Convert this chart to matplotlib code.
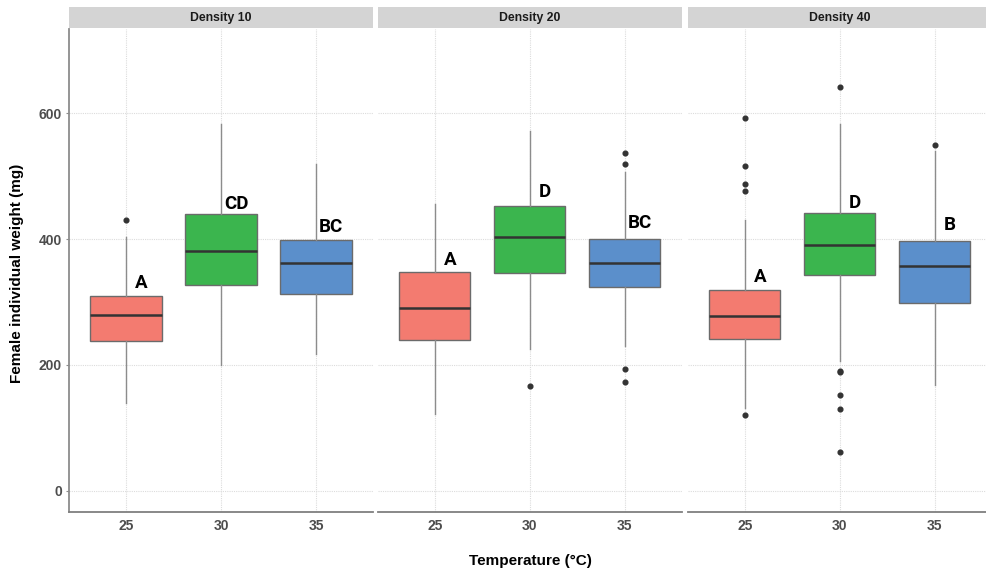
import matplotlib
matplotlib.use("Agg")
import matplotlib.pyplot as plt
from matplotlib import font_manager

# ---- data -------------------------------------------------------------
temperatures = ["25", "30", "35"]
densities = ["Density 10", "Density 20", "Density 40"]

q1 = [[237.5, 327.0, 312.7], [240.0, 346.0, 324.0], [241.0, 342.4, 299.0]]
medians = [[280.0, 380.6, 362.5], [290.5, 403.0, 361.5], [278.0, 390.0, 357.0]]
q3 = [[309.0, 440.0, 398.0], [348.0, 452.6, 399.7], [319.0, 441.0, 397.0]]
whisker_low = [[139.0, 200.0, 217.8], [122.0, 225.0, 230.0], [131.5, 206.0, 167.6]]
whisker_high = [[403.0, 582.5, 520.0], [456.0, 572.0, 507.0], [430.0, 582.5, 540.5]]
outliers = [
    [[430.0], [], []],
    [[], [167.0], [537.0, 520.0, 193.5, 173.0]],
    [[593.0, 516.0, 488.0, 476.0, 120.0], [642.0, 190.0, 188.0, 152.0, 130.0, 62.0], [549.6]],
]

# significance letters and the weight at which each letter sits
letters = [["A", "CD", "BC"], ["A", "D", "BC"], ["A", "D", "B"]]
letter_y = [[322.0, 448.0, 412.0], [359.0, 467.0, 417.0], [332.0, 449.0, 414.5]]

y_ticks = [0, 200, 400, 600]

fill_colors = ["#F37B70", "#3BB54E", "#5B8FCB"]

installed = {f.name for f in font_manager.fontManager.ttflist}
narrow = "Liberation Sans Narrow" in installed
print("narrow available:", narrow, sorted(n for n in installed if "Liberation" in n or "Roboto" in n or "Lato" in n))

# ---- figure layout ----------------------------------------------------
W, H = 987, 571
fig = plt.figure(figsize=(W / 100, H / 100), dpi=100)

panel_left_px = [69, 377.7, 687.7]
panel_w_px = 304
panel_top_px, panel_bot_px = 29, 512.3
strip_top_px, strip_bot_px = 7, 28

text_font = ["Liberation Sans Narrow", "Liberation Sans", "DejaVu Sans"]
scale = 1.18 if narrow else 1.0
letter_font = ["Roboto", "DejaVu Sans"]

for p, dens in enumerate(densities):
    left = panel_left_px[p] / W
    ax = fig.add_axes([left, 1 - panel_bot_px / H, panel_w_px / W,
                       (panel_bot_px - panel_top_px) / H])

    stats = []
    for i in range(len(temperatures)):
        stats.append(dict(med=medians[p][i], q1=q1[p][i], q3=q3[p][i],
                          whislo=whisker_low[p][i], whishi=whisker_high[p][i],
                          fliers=outliers[p][i]))
    positions = list(range(1, len(temperatures) + 1))
    bp = ax.bxp(stats, positions=positions, widths=0.75, patch_artist=True,
                showcaps=False,
                boxprops=dict(edgecolor="#6b6b6b", linewidth=1.0),
                whiskerprops=dict(color="#8c8c8c", linewidth=1.0),
                medianprops=dict(color="#333333", linewidth=1.8),
                flierprops=dict(marker="o", markersize=3.4,
                                markerfacecolor="#333333",
                                markeredgecolor="#333333"),
                zorder=3)
    for patch, col in zip(bp["boxes"], fill_colors):
        patch.set_facecolor(col)

    for i, pos in enumerate(positions):
        ax.text(pos + 0.16, letter_y[p][i], letters[p][i], ha="center",
                va="baseline", fontsize=13.5, fontweight="bold",
                family=letter_font, color="black", zorder=4)

    ax.set_xlim(0.4, 3.6)
    ax.set_ylim(-34.5, 734)
    ax.set_xticks(positions)
    ax.set_xticklabels(temperatures)
    ax.set_yticks(y_ticks)
    ax.grid(True, linestyle=(0, (1, 1)), color="#dcdcdc", linewidth=0.8, zorder=0)
    ax.set_axisbelow(True)

    for s in ["top", "right"]:
        ax.spines[s].set_visible(False)
    ax.spines["bottom"].set_color("#7f7f7f")
    ax.spines["bottom"].set_linewidth(1.3)
    if p == 0:
        ax.spines["left"].set_color("#8c8c8c")
        ax.spines["left"].set_linewidth(1.3)
        ax.tick_params(axis="y", length=2.5, width=0.8, color="#8c8c8c", pad=2.5)
        for lab in ax.get_yticklabels():
            lab.set_fontweight("bold")
            lab.set_fontsize(10 * scale)
            lab.set_color("#4d4d4d")
            lab.set_family(text_font)
    else:
        ax.spines["left"].set_visible(False)
        ax.tick_params(axis="y", length=0, labelleft=False)
    ax.tick_params(axis="x", length=0, pad=5)
    for lab in ax.get_xticklabels():
        lab.set_fontweight("bold")
        lab.set_fontsize(10 * scale)
        lab.set_color("#4d4d4d")
        lab.set_family(text_font)

    # facet strip
    sax = fig.add_axes([left, 1 - strip_bot_px / H, panel_w_px / W,
                        (strip_bot_px - strip_top_px) / H])
    sax.set_facecolor("#d4d4d4")
    sax.set_xticks([])
    sax.set_yticks([])
    for s in sax.spines.values():
        s.set_visible(False)
    sax.text(0.5, 0.5, dens, ha="center", va="center", fontsize=8.8 * scale,
             fontweight="bold", family=text_font, color="#1a1a1a",
             transform=sax.transAxes)

fig.text(17 / W, 1 - 273 / H, "Female individual weight (mg)", rotation=90,
         ha="center", va="center", fontsize=11 * scale, fontweight="bold",
         family=text_font, color="black")
fig.text(530 / W, 1 - 561 / H, "Temperature (°C)", ha="center", va="center",
         fontsize=11 * scale, fontweight="bold", family=text_font, color="black")

fig.savefig("out.png", dpi=100)
